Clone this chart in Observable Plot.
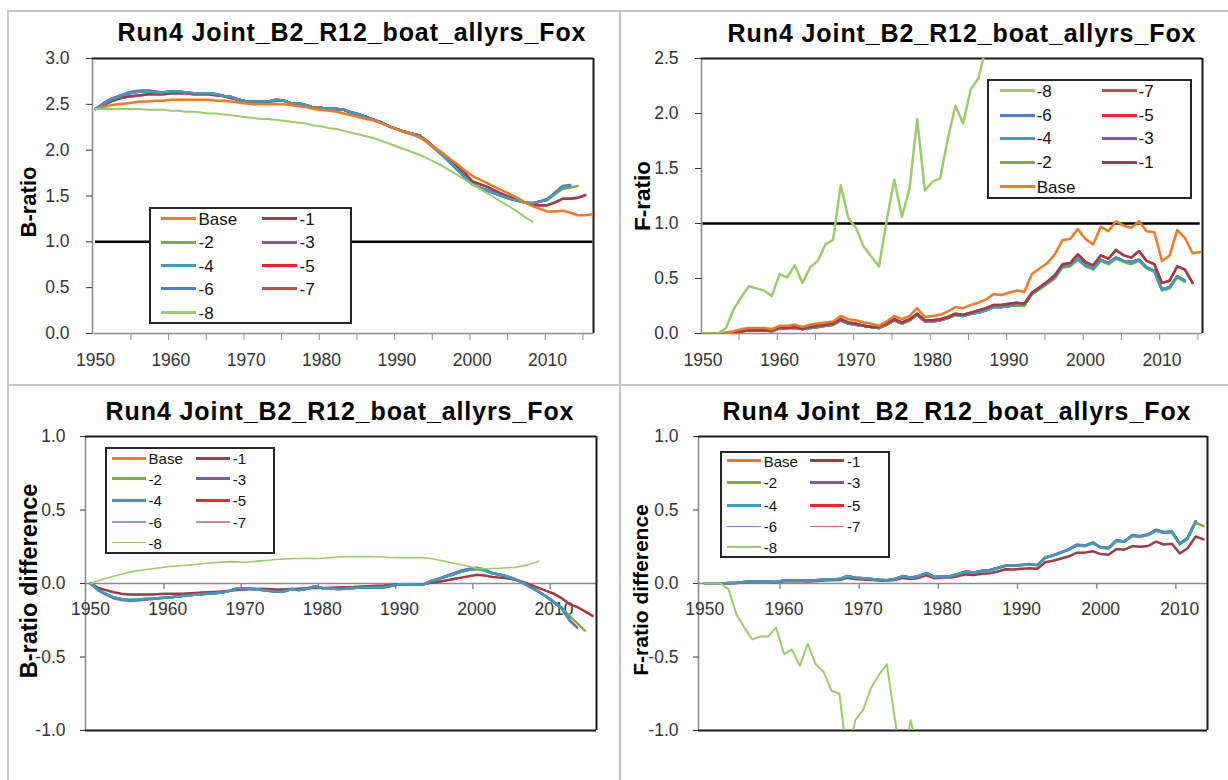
<!DOCTYPE html>
<html>
<head>
<meta charset="utf-8">
<script src="https://cdn.jsdelivr.net/npm/d3@7"></script>
<script src="https://cdn.jsdelivr.net/npm/@observablehq/plot@0.6"></script>
<style>
  body { margin: 0; background: #fff; }
  #root { position: relative; width: 1228px; height: 780px; overflow: hidden; background: #fff;
          font-family: "Liberation Sans", Arial, sans-serif; color: #000; }
  .abs { position: absolute; }
  .title { position: absolute; font-weight: bold; font-size: 25px; letter-spacing: 0.9px; line-height: 1;
           white-space: nowrap; transform: translateX(-50%); }
  .ylab { position: absolute; font-weight: bold; white-space: nowrap; line-height: 1;
          transform: translate(-50%, -50%) rotate(-90deg); }
  .sep { position: absolute; background: #c6c6c6; }
  .legbox { position: absolute; border: 2px solid #262626; background: #fff; box-sizing: border-box; }
  .legtxt { position: absolute; line-height: 1; transform: translateY(-50%); white-space: nowrap; color: #111; }
</style>
</head>
<body>
<div id="root"></div>
<script>
// ---------------- categories / series ----------------
const firstYear = 1950;
const seriesNames = ["Base", "-1", "-2", "-3", "-4", "-5", "-6", "-7", "-8"];
const seriesColors = ["#F07A22", "#A23B45", "#7FAE3F", "#7D5BA6", "#3B9CC0", "#E8282B", "#4F7FC0", "#C0504D", "#9DCB6B"];
const labelYears = [1950, 1960, 1970, 1980, 1990, 2000, 2010];
const yTicksB = [0, 0.5, 1, 1.5, 2, 2.5, 3];
const yTicksF = [0, 0.5, 1, 1.5, 2, 2.5];
const yTicksDiff = [-1, -0.5, 0, 0.5, 1];
const titleText = "Run4 Joint_B2_R12_boat_allyrs_Fox";

// ---------------- B-ratio (values from 1950) ----------------
const bBase = [2.45,2.47,2.49,2.50,2.51,2.52,2.53,2.53,2.54,2.54,
  2.55,2.55,2.55,2.55,2.55,2.55,2.54,2.54,2.53,2.52,
  2.51,2.50,2.50,2.50,2.50,2.50,2.49,2.48,2.47,2.45,
  2.44,2.43,2.42,2.40,2.38,2.36,2.34,2.32,2.29,2.26,
  2.23,2.20,2.17,2.14,2.09,2.03,1.97,1.91,1.85,1.78,
  1.72,1.68,1.64,1.60,1.56,1.52,1.48,1.43,1.39,1.36,
  1.33,1.33,1.34,1.32,1.29,1.29,1.30];
const bM1 = [2.45,2.49,2.53,2.56,2.58,2.59,2.60,2.61,2.61,2.61,
  2.62,2.62,2.62,2.61,2.61,2.61,2.60,2.59,2.57,2.55,
  2.53,2.53,2.53,2.53,2.54,2.54,2.51,2.50,2.49,2.46,
  2.46,2.45,2.45,2.44,2.41,2.39,2.36,2.33,2.30,2.26,
  2.23,2.20,2.18,2.16,2.10,2.03,1.97,1.90,1.83,1.75,
  1.66,1.63,1.60,1.56,1.52,1.49,1.46,1.43,1.40,1.40,
  1.40,1.43,1.47,1.47,1.48,1.51];
const bM2 = [2.45,2.50,2.55,2.58,2.61,2.63,2.64,2.64,2.63,2.63,
  2.64,2.64,2.63,2.62,2.62,2.62,2.61,2.59,2.58,2.55,
  2.53,2.53,2.53,2.53,2.55,2.54,2.51,2.51,2.49,2.46,
  2.46,2.45,2.45,2.44,2.41,2.39,2.36,2.33,2.30,2.26,
  2.23,2.20,2.18,2.16,2.09,2.02,1.95,1.87,1.79,1.71,
  1.63,1.59,1.56,1.53,1.50,1.47,1.45,1.43,1.42,1.44,
  1.46,1.52,1.58,1.59,1.61];
const bM3 = [2.45,2.51,2.56,2.59,2.62,2.64,2.65,2.65,2.64,2.63,
  2.64,2.64,2.63,2.62,2.62,2.62,2.61,2.59,2.58,2.55,
  2.53,2.53,2.53,2.53,2.55,2.54,2.51,2.51,2.49,2.46,
  2.46,2.45,2.45,2.44,2.41,2.39,2.36,2.33,2.30,2.26,
  2.23,2.20,2.18,2.16,2.09,2.02,1.95,1.87,1.79,1.71,
  1.63,1.59,1.56,1.53,1.50,1.47,1.45,1.43,1.42,1.44,
  1.47,1.54,1.61,1.62];
const bM4 = [2.45,2.50,2.55,2.58,2.61,2.63,2.64,2.64,2.63,2.63,
  2.64,2.64,2.63,2.62,2.62,2.62,2.61,2.59,2.58,2.55,
  2.53,2.53,2.53,2.53,2.55,2.54,2.51,2.51,2.49,2.46,
  2.46,2.45,2.45,2.44,2.41,2.39,2.36,2.33,2.30,2.26,
  2.23,2.20,2.18,2.16,2.09,2.02,1.95,1.87,1.79,1.71,
  1.63,1.59,1.56,1.53,1.50,1.47,1.45,1.43,1.42,1.44,
  1.46,1.53,1.60,1.61];
const bM5 = bM4;   // hidden under -4
const bM6 = bM4;   // hidden under -4
const bM7 = bM1;   // hidden under -1
const bM8 = [2.45,2.45,2.45,2.45,2.45,2.45,2.45,2.44,2.44,2.44,
  2.43,2.43,2.42,2.42,2.41,2.40,2.40,2.39,2.38,2.37,
  2.36,2.35,2.34,2.34,2.33,2.32,2.31,2.30,2.29,2.27,
  2.26,2.24,2.23,2.21,2.19,2.17,2.15,2.13,2.10,2.07,
  2.04,2.01,1.98,1.95,1.91,1.87,1.83,1.78,1.73,1.68,
  1.63,1.58,1.53,1.48,1.43,1.38,1.33,1.27,1.22];

// ---------------- F-ratio ----------------
const fBase = [0,0,0,0.01,0.02,0.04,0.05,0.05,0.05,0.04,
  0.07,0.07,0.08,0.06,0.08,0.09,0.10,0.11,0.16,0.13,
  0.12,0.10,0.09,0.07,0.11,0.16,0.13,0.16,0.23,0.15,
  0.16,0.17,0.20,0.24,0.23,0.26,0.28,0.31,0.36,0.35,
  0.37,0.39,0.38,0.54,0.59,0.64,0.72,0.85,0.86,0.95,
  0.86,0.81,0.97,0.93,1.02,0.98,0.96,1.02,0.93,0.92,
  0.66,0.71,0.94,0.87,0.73,0.74];
const fM1 = [0,0,0,0,0.01,0.02,0.03,0.03,0.03,0.03,
  0.05,0.05,0.06,0.04,0.06,0.07,0.08,0.09,0.13,0.10,
  0.09,0.07,0.06,0.06,0.09,0.13,0.10,0.13,0.18,0.12,
  0.12,0.13,0.15,0.18,0.17,0.19,0.21,0.23,0.26,0.26,
  0.27,0.28,0.27,0.37,0.42,0.47,0.53,0.63,0.64,0.72,
  0.65,0.62,0.71,0.68,0.76,0.71,0.69,0.75,0.66,0.63,
  0.46,0.48,0.61,0.58,0.46];
const fM2 = [0,0,0,0,0.01,0.02,0.03,0.03,0.03,0.02,
  0.05,0.05,0.05,0.04,0.05,0.06,0.07,0.08,0.12,0.09,
  0.08,0.07,0.06,0.05,0.08,0.12,0.09,0.12,0.17,0.11,
  0.11,0.12,0.14,0.17,0.16,0.18,0.19,0.21,0.24,0.24,
  0.25,0.26,0.25,0.36,0.40,0.45,0.50,0.60,0.61,0.67,
  0.61,0.58,0.66,0.63,0.68,0.65,0.63,0.66,0.59,0.56,
  0.39,0.41,0.51,0.47];
const fM4 = [0,0,0,0,0.01,0.02,0.03,0.03,0.03,0.02,
  0.05,0.05,0.05,0.04,0.05,0.06,0.07,0.08,0.12,0.09,
  0.08,0.07,0.06,0.05,0.08,0.12,0.09,0.12,0.17,0.11,
  0.11,0.12,0.14,0.17,0.16,0.18,0.19,0.21,0.24,0.24,
  0.25,0.26,0.26,0.36,0.41,0.46,0.51,0.61,0.62,0.68,
  0.62,0.59,0.67,0.64,0.69,0.66,0.65,0.67,0.60,0.57,
  0.40,0.42,0.52,0.48];
const fM3 = fM4, fM5 = fM4, fM6 = fM4;   // indistinguishable from -4
const fM7 = fM1;                           // indistinguishable from -1
const fM8 = [0,0,0,0.05,0.22,0.33,0.43,0.41,0.39,0.34,
  0.54,0.51,0.62,0.46,0.60,0.66,0.81,0.85,1.35,1.05,
  0.96,0.79,0.70,0.61,1.02,1.40,1.06,1.32,1.95,1.30,
  1.38,1.41,1.77,2.07,1.91,2.22,2.32,2.60];

// ---------------- B-ratio difference ----------------
const dbM1 = [0,-0.03,-0.045,-0.06,-0.07,-0.075,-0.075,-0.075,-0.075,-0.072,
  -0.07,-0.07,-0.07,-0.066,-0.063,-0.06,-0.057,-0.054,-0.05,-0.045,
  -0.04,-0.037,-0.035,-0.038,-0.04,-0.04,-0.037,-0.035,-0.033,-0.03,
  -0.03,-0.029,-0.028,-0.026,-0.024,-0.02,-0.018,-0.016,-0.014,-0.01,
  -0.005,-0.005,-0.005,-0.005,0.003,0.01,0.02,0.03,0.04,0.05,
  0.06,0.055,0.045,0.04,0.035,0.025,0.01,-0.01,-0.03,-0.05,
  -0.07,-0.10,-0.14,-0.16,-0.19,-0.22];
const dbM2 = [0,-0.043,-0.072,-0.095,-0.106,-0.113,-0.11,-0.106,-0.103,-0.099,
  -0.095,-0.09,-0.084,-0.079,-0.075,-0.07,-0.066,-0.061,-0.05,-0.032,
  -0.032,-0.037,-0.043,-0.05,-0.054,-0.054,-0.038,-0.045,-0.036,-0.02,
  -0.03,-0.034,-0.038,-0.035,-0.03,-0.028,-0.027,-0.026,-0.025,-0.015,
  -0.005,-0.005,-0.006,-0.009,0.014,0.029,0.047,0.063,0.081,0.093,
  0.10,0.09,0.07,0.059,0.047,0.029,0.002,-0.027,-0.054,-0.088,
  -0.125,-0.165,-0.22,-0.27,-0.32];
const dbM3 = [0,-0.046,-0.076,-0.10,-0.112,-0.118,-0.116,-0.111,-0.106,-0.101,
  -0.095,-0.09,-0.084,-0.079,-0.075,-0.07,-0.066,-0.061,-0.05,-0.032,
  -0.032,-0.037,-0.043,-0.05,-0.054,-0.054,-0.038,-0.045,-0.036,-0.02,
  -0.03,-0.034,-0.038,-0.035,-0.03,-0.028,-0.027,-0.026,-0.025,-0.015,
  -0.005,-0.005,-0.006,-0.009,0.016,0.032,0.052,0.07,0.088,0.10,
  0.108,0.095,0.072,0.06,0.047,0.029,0.002,-0.027,-0.056,-0.09,
  -0.13,-0.17,-0.25,-0.30];
const dbM4 = [0,-0.043,-0.072,-0.095,-0.106,-0.113,-0.11,-0.106,-0.103,-0.099,
  -0.095,-0.09,-0.084,-0.079,-0.075,-0.07,-0.066,-0.061,-0.05,-0.032,
  -0.032,-0.037,-0.043,-0.05,-0.054,-0.054,-0.038,-0.045,-0.036,-0.02,
  -0.03,-0.034,-0.038,-0.035,-0.03,-0.028,-0.027,-0.026,-0.025,-0.015,
  -0.005,-0.005,-0.006,-0.009,0.014,0.029,0.047,0.063,0.081,0.093,
  0.10,0.09,0.07,0.059,0.047,0.029,0.002,-0.027,-0.054,-0.088,
  -0.127,-0.167,-0.245];
const dbM5 = dbM4, dbM6 = dbM4;
const dbM7 = dbM1;
const dbM8 = [0,0.018,0.036,0.05,0.063,0.077,0.086,0.093,0.10,0.107,
  0.115,0.119,0.122,0.127,0.133,0.138,0.142,0.146,0.149,0.147,
  0.145,0.15,0.154,0.158,0.163,0.167,0.169,0.17,0.172,0.17,
  0.172,0.176,0.18,0.183,0.183,0.183,0.183,0.182,0.18,0.177,
  0.176,0.176,0.177,0.176,0.17,0.16,0.15,0.138,0.127,0.115,
  0.104,0.10,0.102,0.104,0.107,0.11,0.12,0.133,0.149];

// ---------------- F-ratio difference ----------------
const dfM1 = [0,0,0,0,0.003,0.006,0.01,0.01,0.01,0.008,
  0.015,0.015,0.017,0.014,0.017,0.02,0.022,0.024,0.038,0.03,
  0.027,0.024,0.02,0.018,0.024,0.038,0.03,0.038,0.055,0.035,
  0.04,0.04,0.05,0.062,0.058,0.066,0.07,0.082,0.097,0.095,
  0.10,0.103,0.10,0.145,0.155,0.17,0.185,0.21,0.21,0.22,
  0.20,0.195,0.235,0.23,0.255,0.25,0.255,0.285,0.265,0.27,
  0.205,0.24,0.32,0.30];
const dfM2 = [0,0,0,0.003,0.005,0.01,0.015,0.012,0.012,0.01,
  0.02,0.02,0.022,0.018,0.022,0.025,0.028,0.03,0.05,0.04,
  0.035,0.03,0.025,0.022,0.03,0.05,0.04,0.05,0.07,0.045,
  0.05,0.05,0.065,0.08,0.075,0.085,0.09,0.105,0.12,0.12,
  0.125,0.13,0.125,0.175,0.19,0.21,0.23,0.26,0.255,0.275,
  0.245,0.24,0.29,0.285,0.325,0.32,0.33,0.36,0.345,0.35,
  0.265,0.305,0.415,0.39];
const dfM3 = [0,0,0,0.003,0.005,0.01,0.015,0.012,0.012,0.01,
  0.02,0.02,0.022,0.018,0.022,0.025,0.028,0.03,0.052,0.04,
  0.035,0.03,0.025,0.022,0.03,0.052,0.04,0.05,0.072,0.045,
  0.05,0.05,0.065,0.082,0.075,0.087,0.092,0.107,0.123,0.12,
  0.127,0.133,0.125,0.178,0.193,0.213,0.234,0.265,0.258,0.28,
  0.248,0.243,0.295,0.288,0.33,0.323,0.335,0.366,0.35,0.356,
  0.272,0.312,0.425];
const dfM4 = [0,0,0,0.003,0.005,0.01,0.015,0.012,0.012,0.01,
  0.02,0.02,0.022,0.018,0.022,0.025,0.028,0.03,0.05,0.04,
  0.035,0.03,0.025,0.022,0.03,0.05,0.04,0.05,0.07,0.045,
  0.05,0.05,0.065,0.08,0.075,0.085,0.09,0.105,0.12,0.12,
  0.125,0.13,0.125,0.175,0.19,0.21,0.23,0.26,0.255,0.275,
  0.245,0.24,0.29,0.285,0.325,0.32,0.33,0.36,0.345,0.35,
  0.27,0.31,0.42];
const dfM5 = dfM4, dfM6 = dfM4;
const dfM7 = dfM1;
const dfM8 = [0,0,0,-0.04,-0.21,-0.30,-0.38,-0.36,-0.36,-0.30,
  -0.48,-0.45,-0.56,-0.41,-0.55,-0.60,-0.73,-0.75,-1.19,-0.93,
  -0.86,-0.71,-0.62,-0.55,-0.92,-1.25,-0.93,-1.16];

// ---------------- layout ----------------
const root = document.getElementById("root");
const FONT = '"Liberation Sans", Arial, sans-serif';
const TICKFONT = 17.5;

function addDiv(cls, css, text) {
  const d = document.createElement("div");
  if (cls) d.className = cls;
  d.style.cssText = css;
  if (text != null) d.textContent = text;
  root.appendChild(d);
  return d;
}

// panel separators
addDiv("sep", "left:8px;top:10px;width:1220px;height:2px;");
addDiv("sep", "left:8px;top:384px;width:1220px;height:2px;");
addDiv("sep", "left:7px;top:10px;width:2px;height:770px;");
addDiv("sep", "left:619px;top:10px;width:2px;height:770px;");

function buildPanel(p) {
  const [x0, x1] = p.xDomain, [y0, y1] = p.yDomain;
  const marks = [];
  marks.push(Plot.ruleX([x0], {stroke: "#8c8c8c", strokeWidth: 1.6}));
  marks.push(Plot.ruleY([0], {stroke: "#8c8c8c", strokeWidth: 1.6}));
  marks.push(Plot.ruleY([y1], {stroke: "#1a1a1a", strokeWidth: 2}));
  marks.push(Plot.ruleX([x1], {stroke: "#1a1a1a", strokeWidth: 2}));
  if (p.diff) marks.push(Plot.ruleY([y0], {stroke: "#1a1a1a", strokeWidth: 2}));
  marks.push(Plot.axisY(p.yTicks, {
    tickSize: p.tickSize, tickPadding: p.tickPadding, tickFormat: d => d.toFixed(1),
    label: null, color: "#333", fontSize: TICKFONT
  }));
  if (!p.diff) {
    marks.push(Plot.axisX(p.tickMarks, {tickSize: 7, tickFormat: () => "", label: null, color: "#8c8c8c"}));
    marks.push(Plot.axisX(labelYears, {tickSize: 0, tickPadding: 20, tickFormat: d => String(d), label: null, color: "#333", fontSize: TICKFONT}));
  } else {
    marks.push(Plot.ruleX(p.tickMarks, {x: d => d, y1: () => 0, y2: () => -0.04, stroke: "#8c8c8c", strokeWidth: 1.5}));
    marks.push(Plot.text(labelYears, {x: d => d, y: () => 0, text: d => String(d), dy: 19, lineAnchor: "top", fill: "#333", fontSize: TICKFONT}));
  }
  if (p.ref) {
    marks.push(Plot.ruleY([p.ref], {y: "y", x1: "x1", x2: "x2", stroke: "#000", strokeWidth: 2.5}));
  }
  for (const [name, vals, w] of p.layers) {
    const data = vals.map((v, i) => ({year: firstYear + i, value: v, series: name}));
    marks.push(Plot.line(data, {x: "year", y: "value", stroke: "series", strokeWidth: w, clip: true, strokeLinejoin: "round"}));
  }
  const svg = Plot.plot({
    width: p.width, height: p.height,
    marginTop: p.margin[0], marginRight: p.margin[1], marginBottom: p.margin[2], marginLeft: p.margin[3],
    x: p.diff ? {domain: p.xDomain, axis: null} : {domain: p.xDomain},
    y: {domain: p.yDomain},
    color: {domain: seriesNames, range: seriesColors},
    style: {fontFamily: FONT, fontSize: TICKFONT + "px", background: "transparent", overflow: "visible"},
    marks
  });
  const wrap = addDiv("abs", `left:${p.left}px;top:${p.top}px;`);
  wrap.appendChild(svg);

  // title
  addDiv("title", `left:${p.titleX}px;top:${p.titleY}px;`, titleText);
  // y label
  addDiv("ylab", `left:${p.ylab.x}px;top:${p.ylab.y}px;font-size:${p.ylab.size}px;`, p.ylab.text);
  // legend
  const L = p.legend;
  addDiv("legbox", `left:${L.left}px;top:${L.top}px;width:${L.width}px;height:${L.height}px;`);
  L.entries.forEach(([name, w, col], i) => {
    const row = Math.floor(i / 2), c = i % 2;
    const cy = L.top + L.rows[row];
    const lx = L.left + L.cols[c];
    const color = col || seriesColors[seriesNames.indexOf(name)];
    addDiv("abs", `left:${lx}px;top:${cy - w / 2}px;width:${L.lineLen}px;height:${w}px;background:${color};`);
    addDiv("legtxt", `left:${lx + L.lineLen + L.gap}px;top:${cy}px;font-size:${L.fontSize}px;`, name);
  });
}

const tick5 = [1954.7, 1959.7, 1964.7, 1969.7, 1974.7, 1979.7, 1984.7, 1989.7, 1994.7, 1999.7, 2004.7, 2009.7, 2014.7];
const tick10 = [1959.5, 1969.5, 1979.5, 1989.5, 1999.5, 2009.5];

const panels = [
  { // B-ratio
    left: 0, top: 0, width: 614, height: 390, margin: [58, 21, 57, 92],
    xDomain: [1949.6, 2016.1], yDomain: [0, 3], yTicks: yTicksB, tickSize: 6, tickPadding: 17,
    tickMarks: tick5, ref: {y: 1, x1: 1950, x2: 2016},
    layers: [["-5", bM5, 2.5], ["-7", bM7, 2.5], ["-6", bM6, 2.5], ["-2", bM2, 2.5], ["-3", bM3, 2.5],
             ["-1", bM1, 2.5], ["-4", bM4, 2.5], ["Base", bBase, 2.5], ["-8", bM8, 2]],
    titleX: 352, titleY: 20,
    ylab: {x: 29, y: 202, size: 22, text: "B-ratio"},
    legend: {left: 149, top: 207, width: 203, height: 117, lineLen: 35, gap: 3, fontSize: 17,
      rows: [11.5, 35, 58.5, 81.5, 105.5], cols: [11.5, 112.5],
      entries: [["Base", 3], ["-1", 3], ["-2", 3], ["-3", 3], ["-4", 3], ["-5", 3], ["-6", 3], ["-7", 3], ["-8", 3]]}
  },
  { // F-ratio
    left: 614, top: 0, width: 614, height: 390, margin: [58, 26, 57, 87],
    xDomain: [1949.8, 2015.3], yDomain: [0, 2.5], yTicks: yTicksF, tickSize: 6, tickPadding: 17,
    tickMarks: tick5, ref: {y: 1, x1: 1950, x2: 2015},
    layers: [["-5", fM5, 2.5], ["-6", fM6, 2.5], ["-3", fM3, 2.5], ["-2", fM2, 2.5], ["-4", fM4, 2.5],
             ["-7", fM7, 2.5], ["-1", fM1, 2.5], ["Base", fBase, 2.5], ["-8", fM8, 2.5]],
    titleX: 962, titleY: 21,
    ylab: {x: 643, y: 196, size: 22.5, text: "F-ratio"},
    legend: {left: 987, top: 79, width: 205, height: 120, lineLen: 35, gap: 2, fontSize: 17,
      rows: [11.7, 36, 59.3, 83.3, 107.7], cols: [12.7, 114.5],
      entries: [["-8", 3], ["-7", 3], ["-6", 3], ["-5", 3], ["-4", 3], ["-3", 3], ["-2", 3], ["-1", 3], ["Base", 3]]}
  },
  { // B-ratio difference
    left: 0, top: 390, width: 614, height: 390, margin: [46, 18, 50, 85], diff: true,
    xDomain: [1949.35, 2015.5], yDomain: [-1, 1], yTicks: yTicksDiff, tickSize: 5, tickPadding: 15,
    tickMarks: tick10,
    layers: [["-5", dbM5, 2.5], ["-6", dbM6, 1.5], ["-7", dbM7, 1.5], ["-2", dbM2, 2.5], ["-1", dbM1, 2.5],
             ["-3", dbM3, 2.5], ["-4", dbM4, 2.5], ["-8", dbM8, 1.6]],
    titleX: 340, titleY: 399,
    ylab: {x: 30, y: 581, size: 23.5, text: "B-ratio difference"},
    legend: {left: 105, top: 447, width: 170, height: 107, lineLen: 34, gap: 3, fontSize: 15,
      rows: [11.3, 31.6, 53.3, 75, 95.6], cols: [6.6, 90.8],
      entries: [["Base", 2.5], ["-1", 2.5], ["-2", 2.5], ["-3", 3], ["-4", 3], ["-5", 3],
                ["-6", 2, "#8A97D2"], ["-7", 2, "#D08A8A"], ["-8", 1.6]]}
  },
  { // F-ratio difference
    left: 614, top: 390, width: 614, height: 390, margin: [46, 21, 50, 84], diff: true,
    xDomain: [1949.2, 2013.5], yDomain: [-1, 1], yTicks: yTicksDiff, tickSize: 5, tickPadding: 15,
    tickMarks: tick10,
    layers: [["-5", dfM5, 2.5], ["-6", dfM6, 1], ["-7", dfM7, 1], ["-1", dfM1, 2.5], ["-2", dfM2, 2.5],
             ["-3", dfM3, 2.5], ["-4", dfM4, 2.5], ["-8", dfM8, 2]],
    titleX: 957, titleY: 399,
    ylab: {x: 639.5, y: 590, size: 21, text: "F-ratio difference"},
    legend: {left: 720, top: 451, width: 170, height: 107, lineLen: 34, gap: 3, fontSize: 15,
      rows: [9.7, 31.3, 54, 75, 96.3], cols: [6.7, 90],
      entries: [["Base", 2.5], ["-1", 2.5], ["-2", 2.5], ["-3", 3], ["-4", 3], ["-5", 3],
                ["-6", 1, "#6E8FD0"], ["-7", 1, "#D07070"], ["-8", 2]]}
  }
];

panels.forEach(buildPanel);
</script>
</body>
</html>
